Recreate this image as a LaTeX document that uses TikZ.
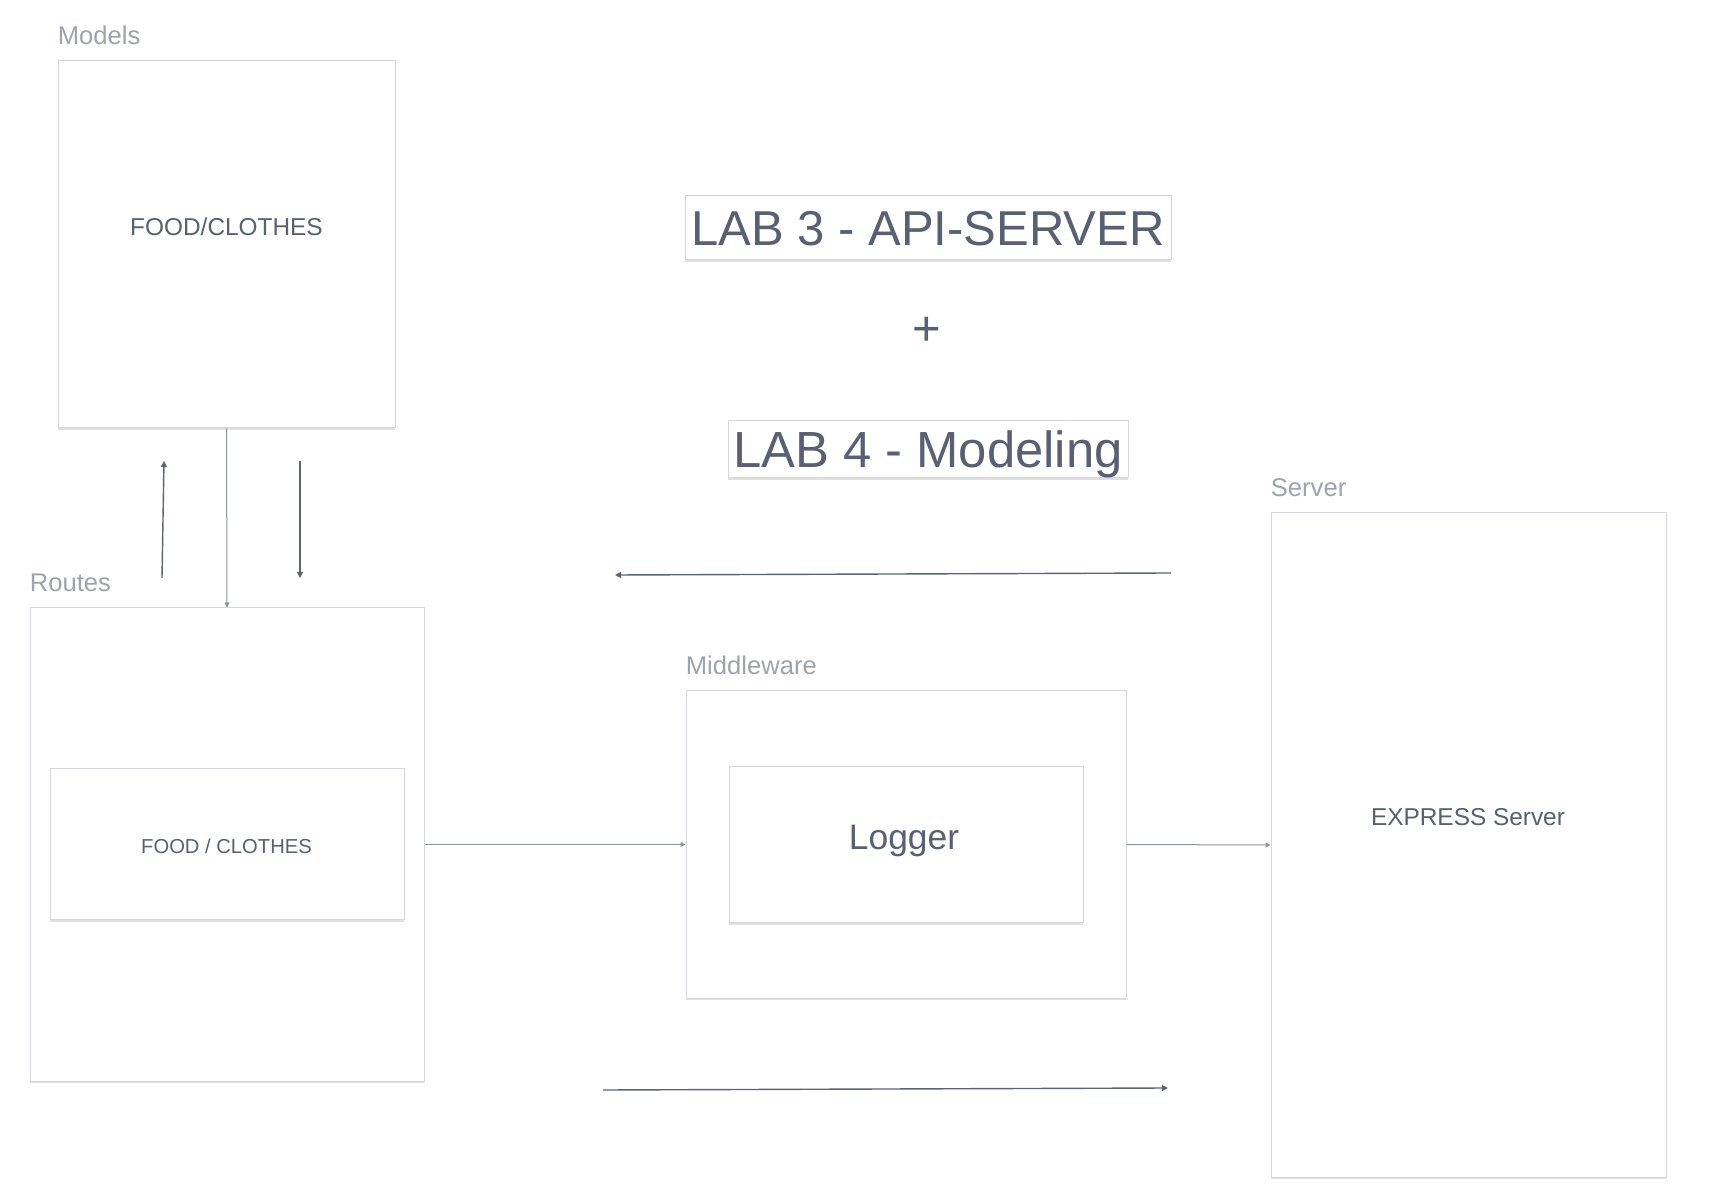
\documentclass[tikz,border=0pt]{standalone}
\usepackage{fontspec}
\setmainfont{Liberation Sans}
\usetikzlibrary{arrows.meta, positioning, shadows}
\definecolor{inkslate}{HTML}{596074}
\definecolor{lblgray}{HTML}{9EA3AE}
\definecolor{edgegray}{HTML}{D6D7DA}
\definecolor{wiredark}{HTML}{5E6476}
\definecolor{wirelight}{HTML}{8E93A1}

\begin{document}
\begin{tikzpicture}[
    x=0.5pt, y=-0.5pt,
    box/.style={draw=edgegray, fill=white, line width=0.5pt, inner sep=0pt,
        drop shadow={shadow xshift=0pt, shadow yshift=-0.9pt, opacity=0.12, fill=black}},
    title/.style={box, text=inkslate, text depth=0pt},
    grp/.style={anchor=base west, inner sep=0pt, text=lblgray, font=\fontsize{12.8}{15}\selectfont},
    txt/.style={anchor=base, inner sep=0pt, text=inkslate},
    arr/.style={-{Triangle[length=3pt, width=3pt]}, wiredark, line width=0.7pt},
    link/.style={-{Triangle[length=2.5pt, width=2.5pt]}, wirelight, line width=0.5pt},
]
\fill[white] (0,0) rectangle (1714,1202);
\useasboundingbox (0,0) rectangle (1714,1202);

% Models
\node[box, minimum width=168.5pt, minimum height=183.5pt] (models) at (226.5,244.5) {};
\node[txt, font=\fontsize{12.2}{14}\selectfont] (modelstxt) at (226.5,236) {FOOD/CLOTHES};
\node[grp] (modelslbl) at ([yshift=8pt]models.north west) {Models};

% Routes
\node[box, minimum width=197pt, minimum height=236.5pt] (routes) at (227,844.5) {};
\node[box, minimum width=177pt, minimum height=75.5pt] (routesbox) at (227,844.5) {};
\node[txt, font=\fontsize{10.1}{12}\selectfont] (routestxt) at (226.5,854) {FOOD / CLOTHES};
\node[grp] (routeslbl) at ([yshift=8pt]routes.north west) {Routes};

% Titles
\node[title, font=\fontsize{24.5}{28}\selectfont, minimum width=243pt, minimum height=32pt] (lab3) at (928,228) {LAB 3 - API-SERVER};
\node[txt, anchor=center, font=\fontsize{24.5}{28}\selectfont] (plus) at (927,331) {+};
\node[title, font=\fontsize{25.4}{28}\selectfont, minimum width=200pt, minimum height=28.5pt] (lab4) at (928,449.5) {LAB 4 - Modeling};

% Middleware
\node[box, minimum width=220pt, minimum height=153.5pt] (middleware) at (906,844.5) {};
\node[box, minimum width=177pt, minimum height=78pt] (logger) at (906,845) {};
\node[txt, font=\fontsize{17.7}{20}\selectfont] (loggertxt) at (904,849) {Logger};
\node[grp] (middlewarelbl) at ([yshift=8pt]middleware.north west) {Middleware};

% Server
\node[box, minimum width=197.5pt, minimum height=332pt] (server) at (1468.5,845) {};
\node[txt, font=\fontsize{12.2}{14}\selectfont] (servertxt) at (1468,826) {EXPRESS Server};
\node[grp] (serverlbl) at ([yshift=8pt]server.north west) {Server};

% Free arrows
\coordinate (upS) at (162,578);
\coordinate (upE) at (164,461);
\coordinate (downS) at (300,461);
\coordinate (downE) at (300,578);
\coordinate (backS) at (1171,573);
\coordinate (backE) at (615,575);
\coordinate (fwdS) at (603,1090);
\coordinate (fwdE) at (1168,1088);

% Arrows
\draw[link] (models.south) -- (routes.north);
\draw[link] (routes.east) -- (middleware.west);
\draw[link] (middleware.east) -- (server.west);
\draw[arr] (upS) -- (upE);
\draw[arr] (downS) -- (downE);
\draw[arr] (backS) -- (backE);
\draw[arr] (fwdS) -- (fwdE);

\end{tikzpicture}
\end{document}
